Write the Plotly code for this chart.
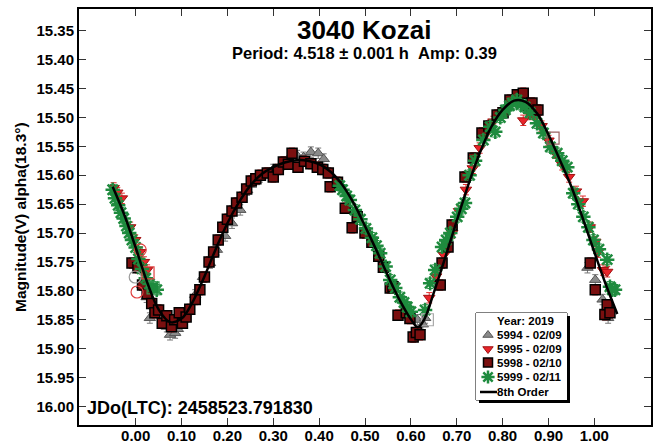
import plotly.graph_objects as go

# ---------------- data ----------------
fit_phase = [-0.05, -0.025, 0.0, 0.025, 0.05, 0.075, 0.1, 0.125, 0.15, 0.175, 0.2, 0.225, 0.25, 0.275,
             0.3, 0.325, 0.35, 0.375, 0.4, 0.425, 0.45, 0.475, 0.5, 0.525, 0.55, 0.575, 0.6, 0.615,
             0.63, 0.65, 0.675, 0.7, 0.725, 0.75, 0.775, 0.8, 0.825, 0.85, 0.875, 0.9, 0.925, 0.95,
             0.975, 1.0, 1.025, 1.05]
fit_mag = [15.620, 15.668, 15.725, 15.785, 15.832, 15.854, 15.848, 15.818, 15.775, 15.727, 15.683,
           15.647, 15.618, 15.598, 15.586, 15.578, 15.574, 15.575, 15.581, 15.594, 15.616, 15.648,
           15.688, 15.730, 15.774, 15.815, 15.849, 15.863, 15.848, 15.803, 15.742, 15.679, 15.617,
           15.562, 15.517, 15.487, 15.471, 15.473, 15.493, 15.530, 15.574, 15.620, 15.675, 15.733,
           15.789, 15.840]

s5994_phase = [0.014, 0.024, 0.031, 0.068, 0.075, 0.086, 0.092, 0.130, 0.147, 0.162, 0.177, 0.195,
               0.210, 0.228, 0.243, 0.258, 0.271, 0.300, 0.318, 0.335, 0.352, 0.366, 0.382, 0.398,
               0.410, 0.614, 0.626, 0.631, 0.985, 1.002, 1.018, 1.030]
s5994_mag = [15.790, 15.811, 15.847, 15.862, 15.876, 15.873, 15.866, 15.807, 15.776, 15.752, 15.729,
             15.705, 15.683, 15.660, 15.626, 15.612, 15.603, 15.590, 15.582, 15.575, 15.566, 15.569,
             15.560, 15.562, 15.572, 15.850, 15.858, 15.847, 15.760, 15.781, 15.815, 15.847]

s5995_phase = [-0.048, -0.040, -0.030, -0.012, -0.001, 0.010, 0.018, 0.025, 0.640, 0.655, 0.672,
               0.690, 0.705, 0.720, 0.735, 0.750, 0.765, 0.780, 0.795, 0.810, 0.845, 0.860, 0.872,
               0.885, 0.900, 0.915, 0.930, 0.945, 0.960, 0.975, 0.990, 1.002, 1.008, 1.019, 1.028]
s5995_mag = [15.622, 15.630, 15.640, 15.690, 15.712, 15.733, 15.750, 15.764, 15.812, 15.775, 15.738,
             15.700, 15.662, 15.625, 15.588, 15.553, 15.527, 15.507, 15.492, 15.486, 15.505, 15.495,
             15.500, 15.515, 15.540, 15.562, 15.582, 15.603, 15.628, 15.645, 15.690, 15.715, 15.733,
             15.764, 15.767]

s5998_phase = [-0.008, 0.005, 0.015, 0.025, 0.035, 0.042, 0.050, 0.058, 0.068, 0.078, 0.085, 0.095,
               0.102, 0.110, 0.118, 0.130, 0.140, 0.150, 0.160, 0.170, 0.180, 0.190, 0.200, 0.210,
               0.220, 0.232, 0.242, 0.252, 0.262, 0.272, 0.287, 0.300, 0.311, 0.322, 0.333, 0.341,
               0.354, 0.368, 0.382, 0.396, 0.408, 0.420, 0.424, 0.440, 0.457, 0.472, 0.483, 0.500,
               0.515, 0.530, 0.540, 0.555, 0.561, 0.572, 0.590, 0.598, 0.605, 0.612, 0.620, 0.664,
               0.668, 0.681, 0.690, 0.718, 0.736, 0.755, 0.770, 0.788, 0.801, 0.816, 0.832, 0.845,
               0.855, 0.864, 0.877, 0.991, 1.002, 1.023, 1.028, 1.034]
s5998_mag = [15.752, 15.760, 15.790, 15.805, 15.822, 15.838, 15.833, 15.856, 15.843, 15.862, 15.850,
             15.838, 15.856, 15.845, 15.832, 15.815, 15.798, 15.776, 15.750, 15.733, 15.712, 15.690,
             15.676, 15.662, 15.648, 15.638, 15.624, 15.610, 15.606, 15.600, 15.596, 15.603, 15.590,
             15.577, 15.581, 15.562, 15.586, 15.576, 15.580, 15.586, 15.590, 15.596, 15.620, 15.612,
             15.657, 15.691, 15.672, 15.700, 15.716, 15.740, 15.759, 15.795, 15.793, 15.842, 15.838,
             15.848, 15.880, 15.872, 15.876, 15.790, 15.752, 15.724, 15.686, 15.603, 15.570, 15.527,
             15.515, 15.496, 15.492, 15.470, 15.461, 15.458, 15.480, 15.475, 15.487, 15.752, 15.798,
             15.841, 15.824, 15.838]

s5999_phase = [-0.050, -0.045, -0.038, -0.032, -0.026, -0.020, -0.014, -0.008, 0.000, 0.006, 0.014,
               0.022, 0.030, 0.038, 0.046, 0.445, 0.451, 0.460, 0.467, 0.478, 0.490, 0.502, 0.515,
               0.525, 0.533, 0.545, 0.555, 0.566, 0.576, 0.585, 0.592, 0.600, 0.631, 0.642, 0.653,
               0.668, 0.677, 0.686, 0.701, 0.710, 0.718, 0.728, 0.740, 0.758, 0.773, 0.784, 0.795,
               0.806, 0.815, 0.821, 0.831, 0.840, 0.849, 0.860, 0.875, 0.889, 0.904, 0.919, 0.930,
               0.941, 0.954, 0.965, 0.976, 0.987, 0.998, 1.010, 1.028, 1.034, 1.039, 1.045]
s5999_mag = [15.625, 15.640, 15.652, 15.665, 15.675, 15.688, 15.700, 15.712, 15.725, 15.745, 15.762,
             15.778, 15.788, 15.793, 15.798, 15.618, 15.625, 15.636, 15.643, 15.660, 15.676, 15.692,
             15.708, 15.722, 15.735, 15.758, 15.781, 15.795, 15.811, 15.820, 15.828, 15.836, 15.833,
             15.787, 15.764, 15.724, 15.712, 15.700, 15.672, 15.658, 15.648, 15.600, 15.575, 15.539,
             15.516, 15.525, 15.500, 15.487, 15.480, 15.475, 15.470, 15.478, 15.482, 15.492, 15.510,
             15.527, 15.551, 15.562, 15.575, 15.586, 15.631, 15.650, 15.672, 15.690, 15.712, 15.728,
             15.746, 15.793, 15.798, 15.798]

# hollow (excluded / wrapped) points
open_red_circle_phase = [0.010, 0.003]
open_red_circle_mag = [15.729, 15.802]
open_gray_circle_phase = [-0.001]
open_gray_circle_mag = [15.776]
open_red_square_phase = [0.027]
open_red_square_mag = [15.769]
open_green_square_phase = [0.038]
open_green_square_mag = [15.795]
open_gray_square_phase = [0.636]
open_gray_square_mag = [15.850]
open_brown_square_phase = [0.910]
open_brown_square_mag = [15.536]

x_ticks = [0.0, 0.1, 0.2, 0.3, 0.4, 0.5, 0.6, 0.7, 0.8, 0.9, 1.0]
y_ticks = [15.35, 15.40, 15.45, 15.50, 15.55, 15.60, 15.65, 15.70, 15.75, 15.80, 15.85, 15.90, 15.95, 16.00]

legend_labels = ["5994 - 02/09", "5995 - 02/09", "5998 - 02/10", "5999 - 02/11", "8th Order"]
legend_title = "Year: 2019"
title_text = "3040 Kozai"
subtitle_text = "Period: 4.518 ± 0.001 h&nbsp;&nbsp;Amp: 0.39"
jd_text = "JDo(LTC): 2458523.791830"
ytitle_text = "Magnitude(V) alpha(18.3°)"

# ---------------- layout geometry ----------------
W, H = 656, 443
L, R, T, B = 79, 5, 9, 18
PW, PH = W - L - R, H - T - B
FONT = "Liberation Sans, Arial, sans-serif"


def px_x(x):
    return (x - L) / PW


def px_y(y):
    return (H - B - y) / PH


styles = {
    "5994": dict(symbol="triangle-up", size=10, color="#8a8a8a", line=dict(color="#555555", width=1)),
    "5995": dict(symbol="triangle-down", size=10, color="#e8242a", line=dict(color="#a01010", width=1)),
    "5998": dict(symbol="square", size=10, color="#7a0f0f", line=dict(color="#000000", width=1.5)),
    "5999": dict(symbol="asterisk-open", size=12, color="#1e8b3e", line=dict(color="#1e8b3e", width=2.5)),
}
err_colors = {"5994": "#777777", "5995": "#e03030", "5998": "#e03030", "5999": "#1e8b3e"}

fig = go.Figure()

series = [
    ("5994", s5994_phase, s5994_mag),
    ("5995", s5995_phase, s5995_mag),
    ("5998", s5998_phase, s5998_mag),
    ("5999", s5999_phase, s5999_mag),
]
for key, ph, mg in series:
    fig.add_trace(go.Scatter(
        x=ph, y=mg, mode="markers", marker=styles[key], showlegend=False,
        error_y=dict(type="constant", value=0.009, color=err_colors[key], thickness=1, width=3),
    ))

hollow = [
    (open_red_circle_phase, open_red_circle_mag, "circle-open", "#e04040"),
    (open_gray_circle_phase, open_gray_circle_mag, "circle-open", "#999999"),
    (open_red_square_phase, open_red_square_mag, "square-open", "#e04040"),
    (open_green_square_phase, open_green_square_mag, "square-open", "#3a9a55"),
    (open_gray_square_phase, open_gray_square_mag, "square-open", "#aaaaaa"),
    (open_brown_square_phase, open_brown_square_mag, "square-open", "#9a6060"),
]
for ph, mg, sym, col in hollow:
    fig.add_trace(go.Scatter(x=ph, y=mg, mode="markers", showlegend=False,
                             marker=dict(symbol=sym, size=12, color=col, line=dict(color=col, width=1.2))))

fig.add_trace(go.Scatter(x=fit_phase, y=fit_mag, mode="lines", showlegend=False,
                         line=dict(color="black", width=2.5, shape="spline")))

# ---------------- manual legend (own small axes in pixel units) ----------------
box_l, box_t, box_r, box_b = 476, 313, 567, 400
fig.add_shape(type="rect", xref="paper", yref="paper", layer="below",
              x0=px_x(box_l + 3), x1=px_x(box_r + 3), y0=px_y(box_b + 3), y1=px_y(box_t + 3),
              fillcolor="black", line=dict(width=0))
fig.add_shape(type="rect", xref="paper", yref="paper", layer="below",
              x0=px_x(box_l), x1=px_x(box_r), y0=px_y(box_b), y1=px_y(box_t),
              fillcolor="white", line=dict(color="black", width=1))

leg_rows = [22, 36, 49.5, 64, 79]
for key, yy in zip(["5994", "5995", "5998", "5999"], leg_rows[:4]):
    st = dict(styles[key])
    st["size"] = st["size"] - 1
    fig.add_trace(go.Scatter(x=[12], y=[yy], xaxis="x3", yaxis="y3", mode="markers",
                             marker=st, showlegend=False, hoverinfo="skip"))
fig.add_trace(go.Scatter(x=[4, 21], y=[leg_rows[4], leg_rows[4]], xaxis="x3", yaxis="y3",
                         mode="lines", line=dict(color="black", width=2.5), showlegend=False,
                         hoverinfo="skip"))

annotations = []
annotations.append(dict(xref="x3", yref="y3", x=20, y=8, text=legend_title, showarrow=False,
                        xanchor="left", yanchor="middle", borderpad=0,
                        font=dict(family=FONT, size=11.5, color="black", weight="bold")))
for lab, yy in zip(legend_labels, leg_rows):
    annotations.append(dict(xref="x3", yref="y3", x=20, y=yy, text=lab, showarrow=False,
                            xanchor="left", yanchor="middle", borderpad=0,
                            font=dict(family=FONT, size=11.5, color="black", weight="bold")))

annotations.append(dict(xref="paper", yref="paper", x=px_x(364), y=px_y(30.5), text=title_text,
                        showarrow=False, xanchor="center", yanchor="middle", borderpad=0,
                        font=dict(family=FONT, size=26, color="black", weight="bold")))
annotations.append(dict(xref="paper", yref="paper", x=px_x(364), y=px_y(53), text=subtitle_text,
                        showarrow=False, xanchor="center", yanchor="middle", borderpad=0,
                        font=dict(family=FONT, size=16.5, color="black", weight="bold")))
annotations.append(dict(xref="paper", yref="paper", x=px_x(85), y=px_y(408), text=jd_text,
                        showarrow=False, xanchor="left", yanchor="middle",
                        font=dict(family=FONT, size=18, color="black", weight="bold")))
annotations.append(dict(xref="paper", yref="paper", x=px_x(20), y=px_y(217), text=ytitle_text,
                        showarrow=False, xanchor="center", yanchor="middle", textangle=-90,
                        font=dict(family=FONT, size=15.5, color="black", weight="bold")))

axis_common = dict(showgrid=False, zeroline=False, showline=True, linecolor="black", linewidth=2,
                   mirror="ticks", ticks="inside", ticklen=7, tickwidth=1, tickcolor="#333333",
                   tickfont=dict(family=FONT, size=15, color="black", weight="bold"),
                   automargin=False)

fig.update_layout(
    width=W, height=H,
    margin=dict(l=L, r=R, t=T, b=B, pad=0),
    paper_bgcolor="white", plot_bgcolor="white",
    showlegend=False,
    xaxis=dict(range=[-0.1235, 1.1235], tickvals=x_ticks, tickformat=".2f",
               ticklabelstandoff=-4, **axis_common),
    yaxis=dict(range=[16.032, 15.3125], tickvals=y_ticks, tickformat=".2f", **axis_common),
    xaxis3=dict(domain=[px_x(box_l), px_x(box_r)], range=[0, box_r - box_l], visible=False,
                anchor="y3", fixedrange=True),
    yaxis3=dict(domain=[px_y(box_b), px_y(box_t)], range=[box_b - box_t, 0], visible=False,
                anchor="x3", fixedrange=True),
    annotations=annotations,
)

fig.write_html("out.html")
